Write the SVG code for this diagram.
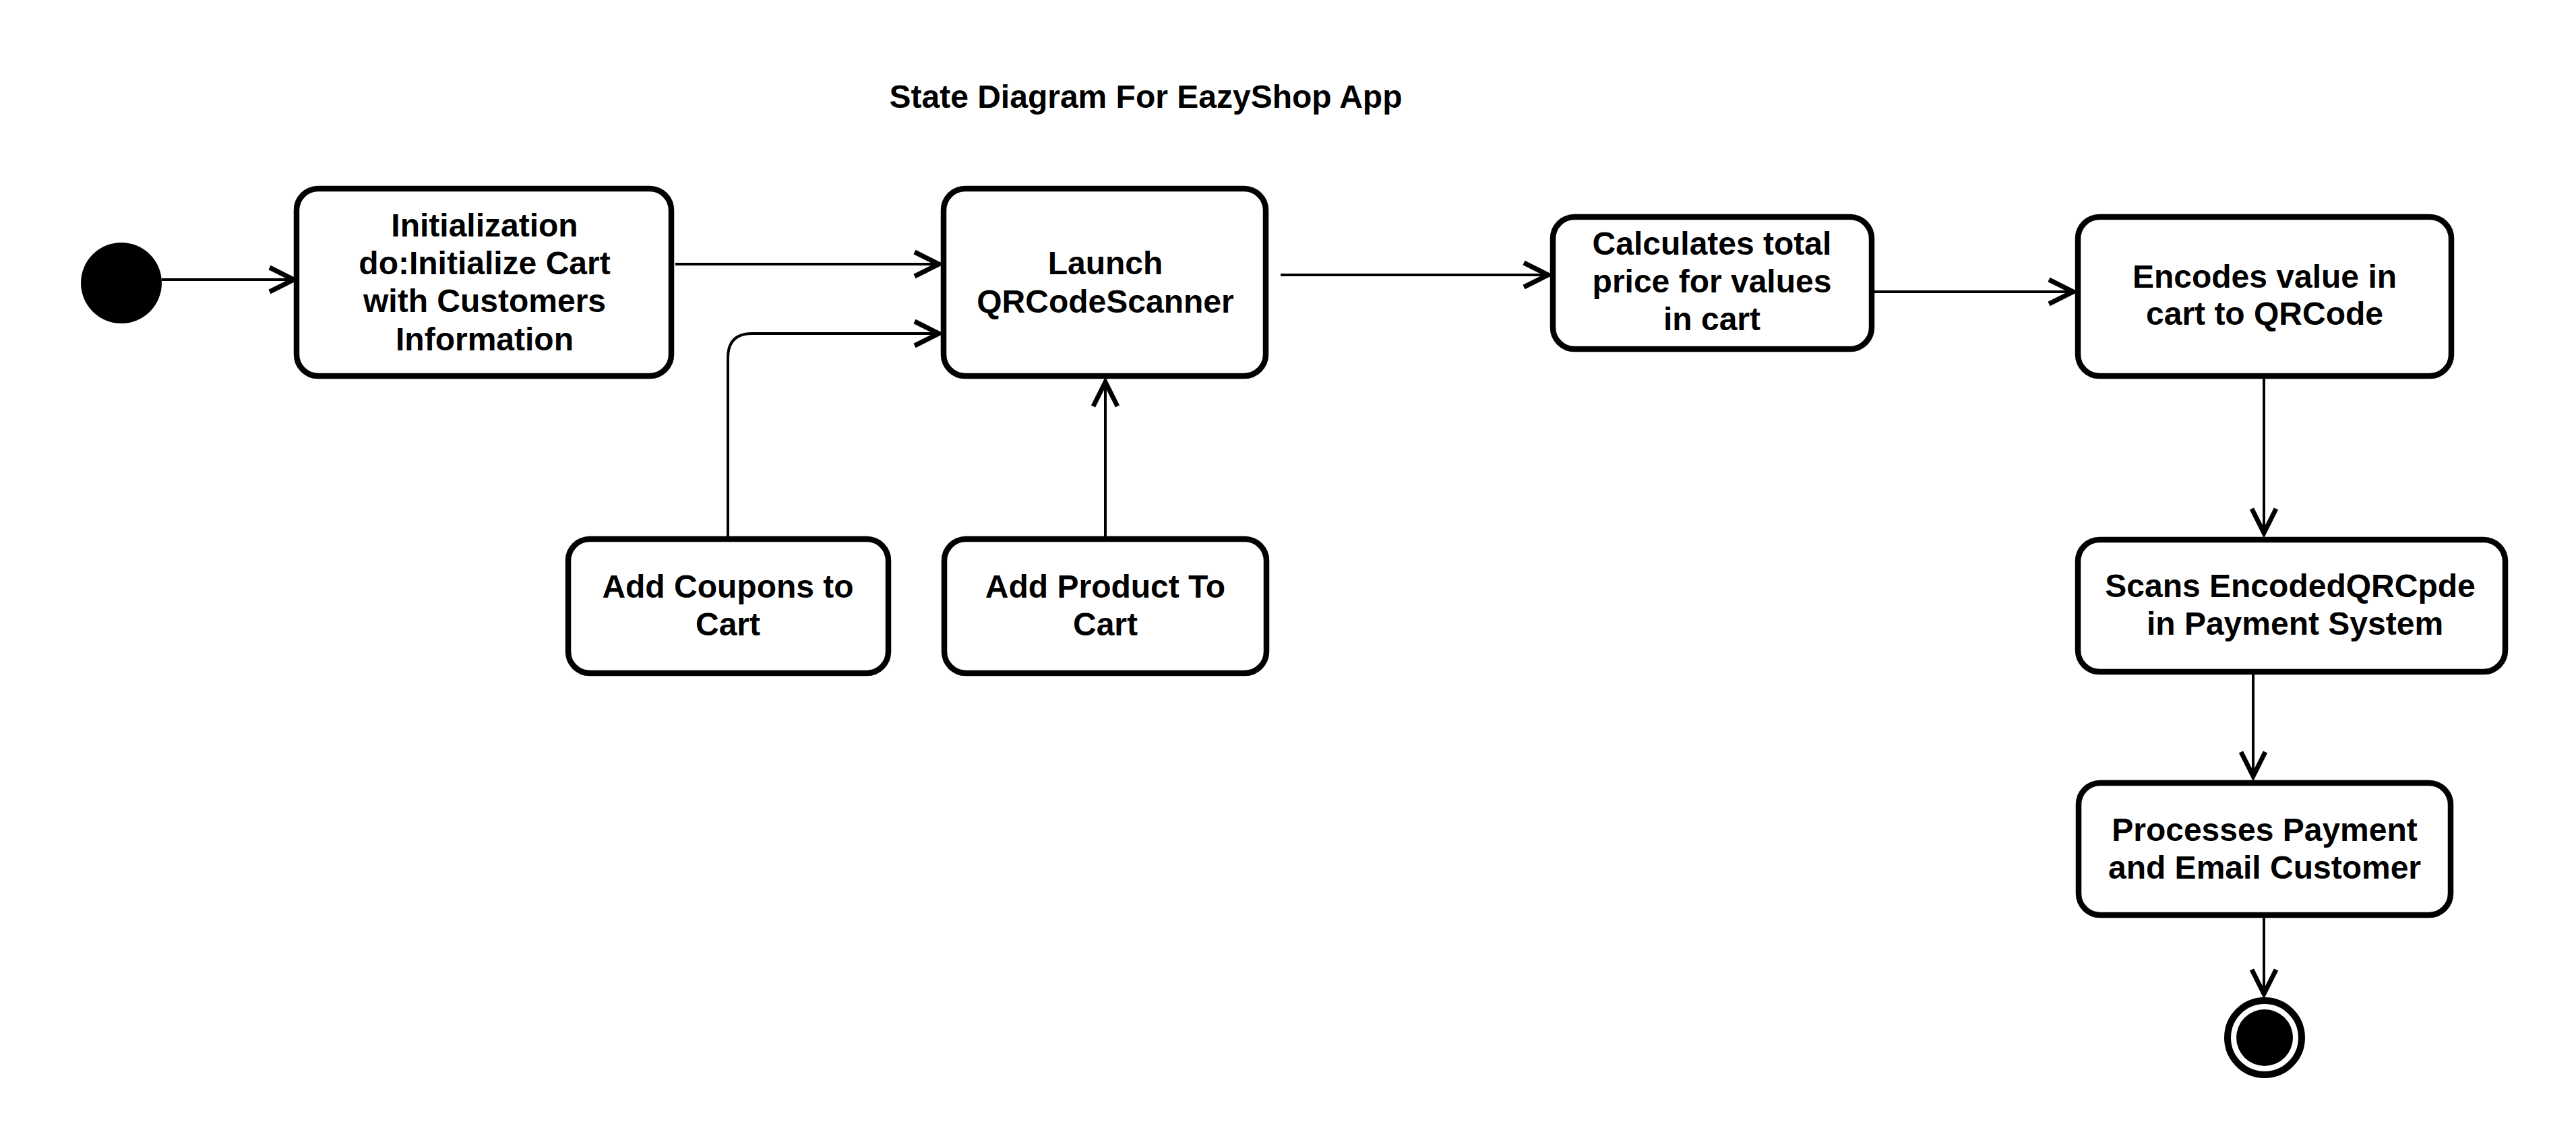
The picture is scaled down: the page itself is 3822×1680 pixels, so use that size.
<svg xmlns="http://www.w3.org/2000/svg" width="3822" height="1680" viewBox="0 0 3822 1680">
<style>
.box{fill:#fff;stroke:#000;stroke-width:8.5}
.t{font-family:"Liberation Sans",Arial,sans-serif;font-weight:bold;font-size:48px;text-anchor:middle;fill:#000}
.c{fill:none;stroke:#000;stroke-width:4}
</style>
<defs>
<marker id="arr" markerUnits="userSpaceOnUse" markerWidth="60" markerHeight="60" viewBox="-50 -30 60 60" refX="0" refY="0" orient="auto" overflow="visible">
<path d="M-36,-18 L0,0 L-36,18" fill="none" stroke="#000" stroke-width="7"/>
</marker>
</defs>
<rect width="3822" height="1680" fill="#fff"/>
<text class="t" x="1700" y="160">State Diagram For EazyShop App</text>
<g id="connectors">
<line class="c" x1="240" y1="415" x2="436" y2="415" marker-end="url(#arr)"/>
<line class="c" x1="1002" y1="392" x2="1393" y2="392" marker-end="url(#arr)"/>
<path class="c" d="M1080,796 V531 Q1080,495 1116,495 H1393" marker-end="url(#arr)"/>
<line class="c" x1="1640" y1="796" x2="1640" y2="567" marker-end="url(#arr)"/>
<line class="c" x1="1900" y1="408" x2="2297" y2="408" marker-end="url(#arr)"/>
<line class="c" x1="2781" y1="433" x2="3076" y2="433" marker-end="url(#arr)"/>
<line class="c" x1="3359" y1="562" x2="3359" y2="791" marker-end="url(#arr)"/>
<line class="c" x1="3343" y1="1001" x2="3343" y2="1152" marker-end="url(#arr)"/>
<line class="c" x1="3359" y1="1362" x2="3359" y2="1475" marker-end="url(#arr)"/>
</g>
<g id="initial"><circle cx="180" cy="420" r="60" fill="#000"/></g>
<g id="initialization">
<rect class="box" x="440" y="280" width="556" height="278" rx="32"/>
<text class="t" x="719" y="351">Initialization</text>
<text class="t" x="719" y="407">do:Initialize Cart</text>
<text class="t" x="719" y="463">with Customers</text>
<text class="t" x="719" y="520">Information</text>
</g>
<g id="launch">
<rect class="box" x="1400" y="280" width="478" height="278" rx="32"/>
<text class="t" x="1640" y="407">Launch</text>
<text class="t" x="1640" y="464">QRCodeScanner</text>
</g>
<g id="coupons">
<rect class="box" x="843" y="800" width="475" height="199" rx="32"/>
<text class="t" x="1080" y="887">Add Coupons to</text>
<text class="t" x="1080" y="943">Cart</text>
</g>
<g id="product">
<rect class="box" x="1401" y="800" width="478" height="199" rx="32"/>
<text class="t" x="1640" y="887">Add Product To</text>
<text class="t" x="1640" y="943">Cart</text>
</g>
<g id="calculates">
<rect class="box" x="2304" y="322" width="473" height="196" rx="32"/>
<text class="t" x="2540" y="378">Calculates total</text>
<text class="t" x="2540" y="434">price for values</text>
<text class="t" x="2540" y="490">in cart</text>
</g>
<g id="encodes">
<rect class="box" x="3083" y="322" width="554" height="236" rx="32"/>
<text class="t" x="3360" y="427">Encodes value in</text>
<text class="t" x="3360" y="482">cart to QRCode</text>
</g>
<g id="scans">
<rect class="box" x="3083" y="801" width="634" height="196" rx="32"/>
<text class="t" x="3398" y="886">Scans EncodedQRCpde</text>
<text class="t" x="3405" y="942">in Payment System</text>
</g>
<g id="processes">
<rect class="box" x="3084" y="1162" width="552" height="196" rx="32"/>
<text class="t" x="3360" y="1248">Processes Payment</text>
<text class="t" x="3360" y="1304">and Email Customer</text>
</g>
<g id="final">
<circle cx="3360" cy="1540" r="55" fill="#fff" stroke="#000" stroke-width="10"/>
<circle cx="3360" cy="1540" r="42" fill="#000"/>
</g>
</svg>
